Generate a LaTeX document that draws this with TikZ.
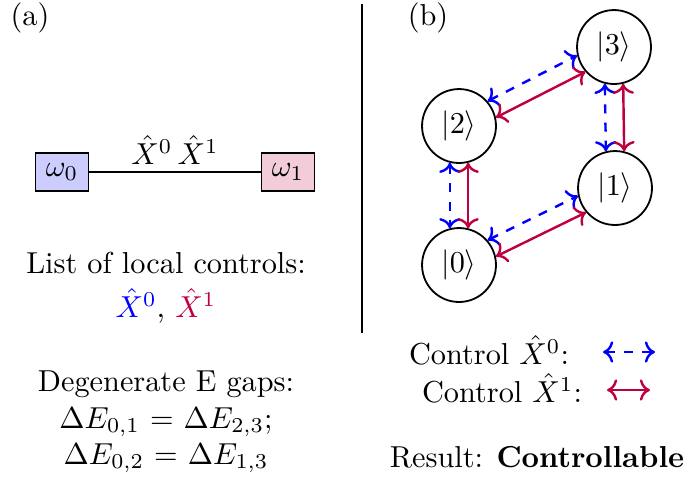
\documentclass[tikz,border=0pt]{standalone}
\usepackage{amsmath, amssymb}
\usepackage{xcolor}
\usetikzlibrary{arrows.meta, calc, positioning}

\tikzset{
  state/.style={circle, draw, semithick, minimum size=24.4pt, inner sep=0pt},
  qubit/.style={draw, semithick, minimum width=17.5pt, minimum height=12.5pt, inner sep=0pt},
  ctrlzero/.style={<->, thick, dashed, blue},
  ctrlone/.style={<->, thick, purple},
}

\begin{document}
\begin{tikzpicture}[x=0.33pt, y=-0.33pt]
    \useasboundingbox (0,0) rectangle (687,483);
    % panel (a): two qubits
    \node (la) at (30,18) {(a)};
    \node[qubit, fill=blue!20] (w0) at (62,172) {$\omega_0$};
    \node[qubit, fill=purple!20] (w1) at (288,172) {$\omega_1$};
    \draw (w0) -- (w1) node[midway, above=-1pt] {$\hat{X}^0\,\hat{X}^1$};
    \node (list) at (166,263) {List of local controls:};
    \node (ctrls) at (166,306) {$\color{blue}\hat{X}^0$, $\color{purple}\hat{X}^1$};
    \node[align=center] (gaps) at (166,422) {Degenerate E gaps:\\
        $\Delta E_{0,1}$ = $\Delta E_{2,3}$;\\ $\Delta E_{0,2}$ = $\Delta E_{1,3}$};
    % separator
    \coordinate (top) at (362,4);
    \coordinate (bot) at (362,333);
    \draw[line width=0.8pt] (top) -- (bot);
    % panel (b): level graph
    \node (lb) at (428,18) {(b)};
    \node[state] (n3) at (614,47) {$|3\rangle$};
    \node[state] (n2) at (459,126) {$|2\rangle$};
    \node[state] (n1) at (615,188) {$|1\rangle$};
    \node[state] (n0) at (459,265) {$|0\rangle$};
    \draw[ctrlzero] (n2.-104) -- (n0.104);
    \draw[ctrlone] (n2.-76) -- (n0.76);
    \draw[ctrlzero] (n3.-104) -- (n1.104);
    \draw[ctrlone] (n3.-76) -- (n1.76);
    \draw[ctrlzero] (n0.41) -- (n1.192);
    \draw[ctrlone] (n0.13) -- (n1.220);
    \draw[ctrlzero] (n2.41) -- (n3.193);
    \draw[ctrlone] (n2.13) -- (n3.221);
    % legend
    \node (legA) at (489,350) {Control $\hat{X}^0$:};
    \node (legB) at (502,388) {Control $\hat{X}^1$:};
    \coordinate (a0) at (603,352);
    \coordinate (a1) at (655,352);
    \coordinate (b0) at (607,390);
    \coordinate (b1) at (650,390);
    \draw[ctrlzero] (a0) -- (a1);
    \draw[ctrlone] (b0) -- (b1);
    \node (result) at (537,457) {Result: \textbf{Controllable}};
\end{tikzpicture}
\end{document}
